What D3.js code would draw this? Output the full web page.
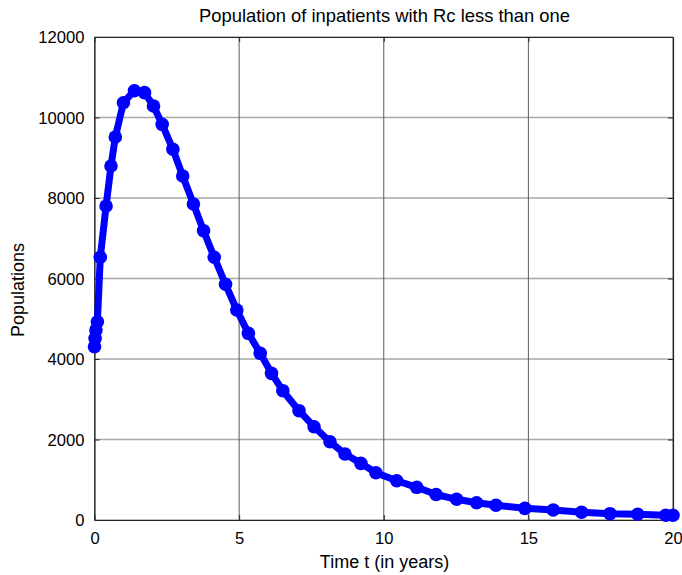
<!DOCTYPE html>
<html>
<head>
<meta charset="utf-8">
<script src="https://cdn.jsdelivr.net/npm/d3@7"></script>
<style>
  html, body { margin: 0; padding: 0; background: #fff; }
  svg { display: block; }
  text { font-family: "Liberation Sans", Arial, Helvetica, sans-serif; fill: #000; }
</style>
</head>
<body>
<script>
// Inpatient population over time (years), reproduction number Rc < 1
const timeYears = [0, 0.02, 0.05, 0.1, 0.2, 0.4, 0.57, 0.72, 1.0, 1.38, 1.73, 2.04, 2.34, 2.71,
  3.05, 3.42, 3.77, 4.14, 4.53, 4.92, 5.32, 5.73, 6.12, 6.51, 7.07, 7.59, 8.14, 8.66, 9.21,
  9.73, 10.45, 11.14, 11.81, 12.52, 13.21, 13.88, 14.88, 15.86, 16.84, 17.82, 18.78, 19.75, 20];
const inpatients = [4305, 4513, 4720, 4927, 6527, 7800, 8795, 9516, 10368, 10666, 10617, 10286, 9830, 9210,
  8547, 7851, 7188, 6527, 5856, 5217, 4638, 4141, 3644, 3213, 2716, 2318, 1945, 1640, 1408,
  1175, 976, 812, 633, 514, 430, 365, 290, 248, 191, 157, 142, 117, 117];
const xTicks = [0, 5, 10, 15, 20];
const yTicks = [0, 2000, 4000, 6000, 8000, 10000, 12000];

const chartTitle = "Population of inpatients with Rc less than one";
const xLabel = "Time t (in years)";
const yLabel = "Populations";

const W = 682, H = 575;
const margin = { left: 94.5, right: 9, top: 37, bottom: 55 };

const svg = d3.select("body").append("svg").attr("width", W).attr("height", H);

const x = d3.scaleLinear().domain([0, 20]).range([margin.left, W - margin.right]);
const y = d3.scaleLinear().domain([0, 12000]).range([H - margin.bottom, margin.top]);

const [x0, x1] = x.range();
const [y0, y1] = y.range();

// grid
svg.append("g").selectAll("line").data(yTicks).join("line")
  .attr("x1", x0).attr("x2", x1)
  .attr("y1", d => y(d)).attr("y2", d => y(d))
  .attr("stroke", "#a8a8a8").attr("stroke-width", 1.4);
svg.append("g").selectAll("line").data(xTicks).join("line")
  .attr("x1", d => x(d)).attr("x2", d => x(d))
  .attr("y1", y0).attr("y2", y1)
  .attr("stroke", "#5a5a5a").attr("stroke-width", 1);

// axes with inward ticks
const tickLen = 5;
const fmt = d3.format("d");
const bottomAxis = svg.append("g").attr("transform", `translate(0,${y0})`)
  .call(d3.axisBottom(x).tickValues(xTicks).tickFormat(fmt).tickSizeInner(-tickLen).tickSizeOuter(0).tickPadding(12));
const leftAxis = svg.append("g").attr("transform", `translate(${x0},0)`)
  .call(d3.axisLeft(y).tickValues(yTicks).tickFormat(fmt).tickSizeInner(-tickLen).tickSizeOuter(0).tickPadding(10));
const topAxis = svg.append("g").attr("transform", `translate(0,${y1})`)
  .call(d3.axisTop(x).tickValues(xTicks).tickSizeInner(-tickLen).tickSizeOuter(0).tickFormat(""));
const rightAxis = svg.append("g").attr("transform", `translate(${x1},0)`)
  .call(d3.axisRight(y).tickValues(yTicks).tickSizeInner(-tickLen).tickSizeOuter(0).tickFormat(""));

[bottomAxis, leftAxis, topAxis, rightAxis].forEach(g => {
  g.select(".domain").attr("stroke", "#262626").attr("stroke-width", 1.2);
  g.selectAll(".tick line").attr("stroke", "#262626");
  g.selectAll(".tick text").style("font-size", "16.6px")
    .style("font-family", "'Liberation Sans', Arial, sans-serif").attr("fill", "#000");
});
bottomAxis.selectAll(".tick text").attr("dy", "0.71em");
leftAxis.selectAll(".tick text").attr("dy", "0.36em");

// data line and markers
const line = d3.line().x((d, i) => x(timeYears[i])).y(d => y(d));
svg.append("path").datum(inpatients)
  .attr("d", line)
  .attr("fill", "none").attr("stroke", "#0000ff")
  .attr("stroke-width", 7).attr("stroke-linejoin", "round").attr("stroke-linecap", "round");
svg.append("g").selectAll("circle").data(inpatients).join("circle")
  .attr("cx", (d, i) => x(timeYears[i])).attr("cy", d => y(d))
  .attr("r", 6.8).attr("fill", "#0000ff");

// labels
svg.append("text").attr("x", 384.5).attr("y", 22)
  .attr("text-anchor", "middle").style("font-size", "18.4px").text(chartTitle);
svg.append("text").attr("x", 384.5).attr("y", 568)
  .attr("text-anchor", "middle").style("font-size", "18px").text(xLabel);
svg.append("text").attr("transform", `translate(24,290) rotate(-90)`)
  .attr("text-anchor", "middle").style("font-size", "18px").text(yLabel);
</script>
</body>
</html>
